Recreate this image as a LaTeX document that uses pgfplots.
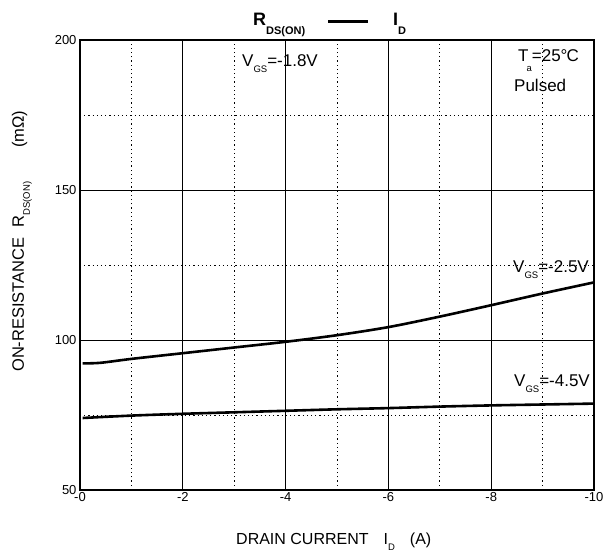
\documentclass[border=0pt]{standalone}
\usepackage{fontspec}
\setmainfont{Liberation Sans}
\usepackage{pgfplots}
\pgfplotsset{compat=1.18}
\begin{document}
\begin{tikzpicture}[x=1pt,y=1pt]
\begin{axis}[
  at={(0,0)}, anchor=south west,
  scale only axis, width=514pt, height=450pt,
  xmin=0, xmax=10, ymin=50, ymax=200,
  xtick={0,2,4,6,8,10}, xticklabels={-0,-2,-4,-6,-8,-10},
  ytick={50,100,150,200}, yticklabels={50,100,150,200},
  minor xtick={1,3,5,7,9}, minor ytick={75,125,175},
  grid=both,
  major grid style={black, line width=0.9pt},
  minor grid style={black, line width=0.9pt, dash pattern=on 1.2pt off 3pt},
  major tick length=0pt, minor tick length=0pt,
  axis line style={black, line width=1.3pt},
  ticklabel style={font=\fontsize{13}{15}\selectfont},
  xticklabel style={yshift=1pt},
  clip=false,
]
\addplot[black, line width=2.6pt, smooth] coordinates {
(0.05,92.2) (0.4,92.4) (1,93.7) (2,95.6) (3,97.5) (4,99.4) (5,101.6) (6,104.3) (7,107.8) (8,111.6) (9,115.5) (10,119.2)
};
\addplot[black, line width=2.6pt, smooth] coordinates {
(0.05,74.0) (1,74.8) (2,75.4) (3,75.9) (4,76.4) (5,76.9) (6,77.3) (7,77.8) (8,78.2) (9,78.5) (10,78.8)
};
\end{axis}
\pgfresetboundingbox
\path (-80,-64) rectangle (525,490);
% title
\node[anchor=base west, inner sep=0pt, font=\bfseries\fontsize{18}{20}\selectfont] at (173,464) {R\raisebox{-9pt}{\fontsize{11}{13}\selectfont DS(ON)}};
\draw[black, line width=3pt] (248,468) -- (288,468);
\node[anchor=base west, inner sep=0pt, font=\bfseries\fontsize{18}{20}\selectfont] at (313,464) {I\raisebox{-9pt}{\fontsize{11}{13}\selectfont D}};
% annotations
\node[anchor=base west, inner sep=0pt, font=\fontsize{17}{20}\selectfont] at (162,423) {V\raisebox{-6pt}{\fontsize{9.5}{11}\selectfont GS}=-1.8V};
\node[anchor=base west, inner sep=0pt, font=\fontsize{17}{20}\selectfont] at (438,428) {T\kern-2pt\raisebox{-10pt}{\fontsize{9.5}{11}\selectfont a}=25°\kern-1pt C};
\node[anchor=base west, inner sep=0pt, font=\fontsize{17}{20}\selectfont] at (434,398) {Pulsed};
\node[anchor=base west, inner sep=0pt, font=\fontsize{17}{20}\selectfont] at (433,217) {V\raisebox{-6pt}{\fontsize{9.5}{11}\selectfont GS}=-2.5V};
\node[anchor=base west, inner sep=0pt, font=\fontsize{17}{20}\selectfont] at (434,103) {V\raisebox{-6pt}{\fontsize{9.5}{11}\selectfont GS}=-4.5V};
% axis labels
\node[anchor=base west, inner sep=0pt, font=\fontsize{16}{18}\selectfont] at (156,-54) {DRAIN CURRENT\hspace{15pt}I\raisebox{-6pt}{\fontsize{9.5}{11}\selectfont D}\hspace{15pt}(A)};
\node[anchor=base west, inner sep=0pt, rotate=90, font=\fontsize{16.5}{18}\selectfont] at (-56,118) {ON-RESISTANCE\hspace{10pt}R\raisebox{-6pt}{\fontsize{9.5}{11}\selectfont DS(ON)}\hspace{34pt}(mΩ)};
\end{tikzpicture}
\end{document}
